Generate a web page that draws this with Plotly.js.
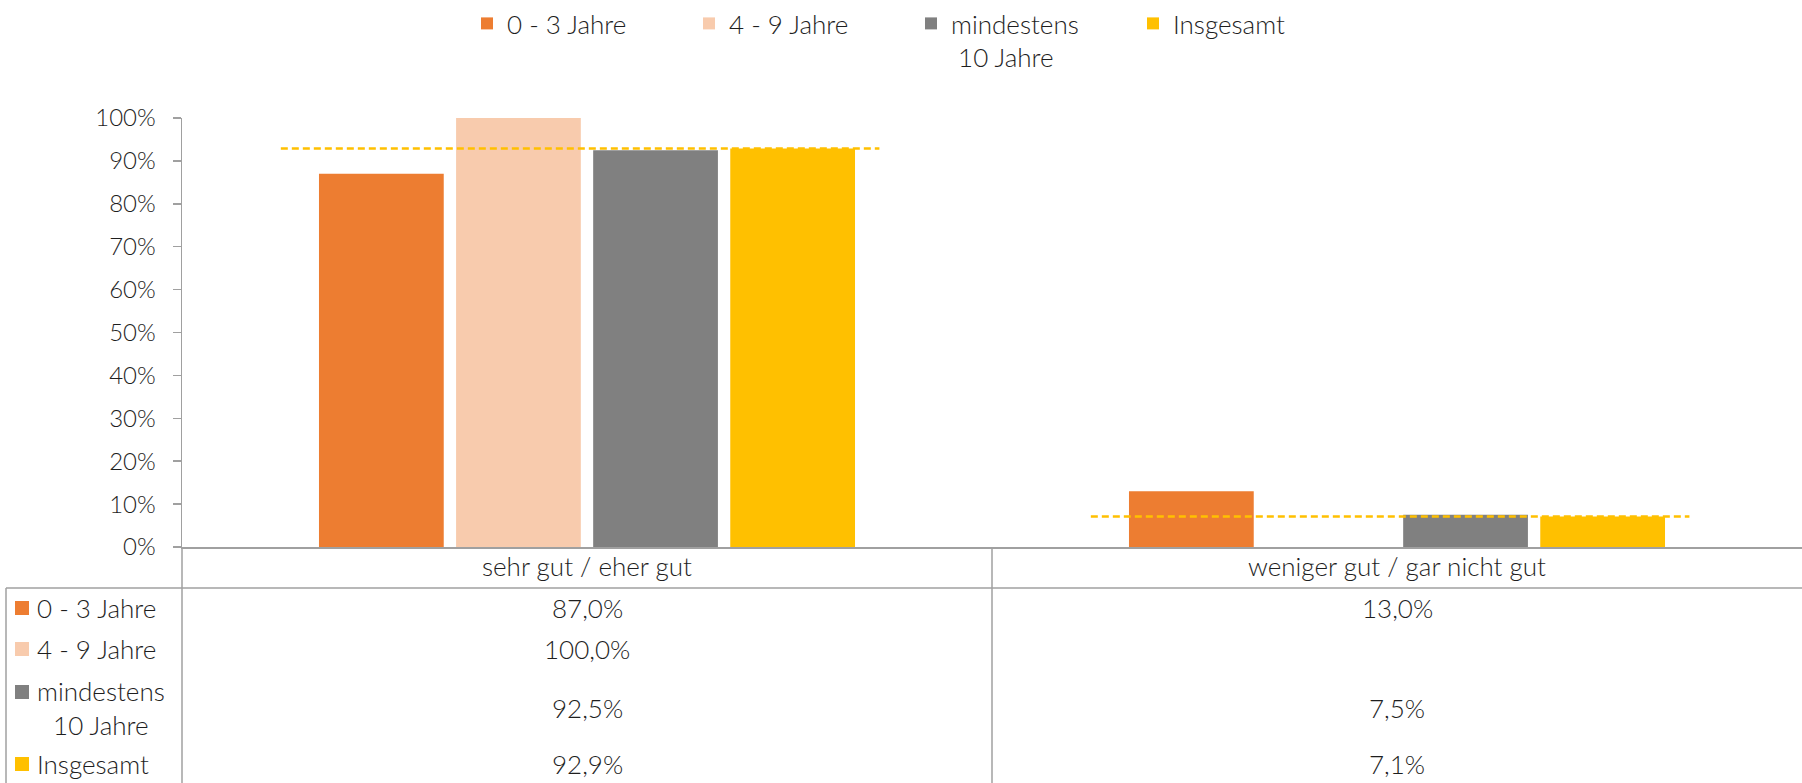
<!DOCTYPE html>
<html>
<head>
<meta charset="utf-8">
<script src="https://cdn.plot.ly/plotly-3.0.1.min.js"></script>
<style>html,body{margin:0;padding:0;background:#fff;}#chart{width:1802px;height:783px;}</style>
</head>
<body>
<div id="chart"></div>
<script>
// ---- data ----
const categories = ['sehr gut / eher gut', 'weniger gut / gar nicht gut'];
const seriesNames = ['0 - 3 Jahre', '4 - 9 Jahre', 'mindestens<br>\u00a010 Jahre', 'Insgesamt'];
const tableNames = ['0 - 3 Jahre', '4 - 9 Jahre', 'mindestens<br>10 Jahre', 'Insgesamt'];
const vJ0_3 = [87.0, 13.0];
const vJ4_9 = [100.0, null];
const vJ10 = [92.5, 7.5];
const vTotal = [92.9, 7.1];
const yTickVals = [0, 10, 20, 30, 40, 50, 60, 70, 80, 90, 100];
const yTickText = ['0%', '10%', '20%', '30%', '40%', '50%', '60%', '70%', '80%', '90%', '100%'];

// ---- styling ----
const colors = ['#ED7D31', '#F8CBAD', '#808080', '#FFC000'];
const FONT = 'Lato, "Noto Sans", sans-serif';
const FS = 26;
const FS_TICK = 24;
const WEIGHT = 300;
const TXT = '#1e1e1e';
const LINEC = '#A0A0A0';
const W = 1802, H = 783;
const M = {l: 182, r: 0, t: 118, b: 236};
const PW = W - M.l - M.r, PH = H - M.t - M.b;
const px = p => (p - M.l) / PW;           // pixel x -> paper
const py = p => (H - M.b - p) / PH;       // pixel y -> paper
// extent of the dashed "Insgesamt" line around each category centre (category units)
const lineExtent = [-0.378, 0.361];
const txtFont = {family: FONT, size: FS, color: TXT, weight: WEIGHT};

const allSeries = [vJ0_3, vJ4_9, vJ10, vTotal];
const fmt = v => (v === null || v === undefined) ? '' : v.toFixed(1).replace('.', ',') + '%';

const traces = allSeries.map((vals, i) => ({
  type: 'bar', name: seriesNames[i], x: categories, y: vals,
  marker: {color: colors[i]}, hoverinfo: 'skip'
}));
vTotal.forEach((v, i) => {
  traces.push({
    type: 'scatter', mode: 'lines', xaxis: 'x2', showlegend: false, hoverinfo: 'skip',
    x: [i + lineExtent[0], i + lineExtent[1]], y: [v, v],
    line: {color: '#FFC000', width: 2.5, dash: '7px,4px'}
  });
});

const shapes = [];
const lineStyle = {color: LINEC, width: 1.5};
// table frame
shapes.push({type: 'line', xref: 'paper', yref: 'paper', x0: px(6), x1: px(1802), y0: py(588), y1: py(588), line: lineStyle});
shapes.push({type: 'line', xref: 'paper', yref: 'paper', x0: px(6), x1: px(6), y0: py(588), y1: py(783), line: lineStyle});
shapes.push({type: 'line', xref: 'paper', yref: 'paper', x0: 0, x1: 0, y0: 0, y1: py(783), line: lineStyle});
shapes.push({type: 'line', xref: 'paper', yref: 'paper', x0: 0.5, x1: 0.5, y0: 0, y1: py(783), line: lineStyle});

const rowY = [608, 649, 708, 764];
const rowMarkerY = [608, 649, 692, 764];
const rowLabelY = [608, 649, 708, 764];
const annotations = [];
tableNames.forEach((nm, r) => {
  shapes.push({type: 'rect', xref: 'paper', yref: 'paper', x0: px(15), x1: px(29),
    y0: py(rowMarkerY[r] - 7), y1: py(rowMarkerY[r] + 7), fillcolor: colors[r], line: {width: 0}});
  annotations.push({xref: 'paper', yref: 'paper', x: px(35), y: py(rowLabelY[r]), xanchor: 'left', yanchor: 'middle',
    text: nm, showarrow: false, align: 'center', font: txtFont});
  categories.forEach((c, ci) => {
    annotations.push({xref: 'x', yref: 'paper', x: c, y: py(rowY[r]), xanchor: 'center', yanchor: 'middle',
      text: fmt(allSeries[r][ci]), showarrow: false, font: txtFont});
  });
});

const layout = {
  width: W, height: H, margin: M,
  paper_bgcolor: '#fff', plot_bgcolor: '#fff',
  font: txtFont,
  barmode: 'group', bargap: 0.323, bargroupgap: 0.09,
  showlegend: true,
  legend: {orientation: 'h', x: px(467), xanchor: 'left', y: py(0), yanchor: 'top',
    entrywidth: 177, entrywidthmode: 'pixels', valign: 'top', traceorder: 'normal',
    font: txtFont, bgcolor: 'rgba(0,0,0,0)'},
  xaxis: {type: 'category', range: [-0.5, 1.5], showline: true, linecolor: LINEC, linewidth: 2,
    ticks: '', showgrid: false, zeroline: false, ticklabelstandoff: -4,
    tickfont: txtFont, fixedrange: true},
  xaxis2: {overlaying: 'x', range: [-0.5, 1.5], visible: false, fixedrange: true},
  yaxis: {range: [0, 100], tickvals: yTickVals, ticktext: yTickText, showline: true,
    linecolor: LINEC, linewidth: 1.5, ticks: 'outside', ticklen: 8, tickcolor: LINEC, tickwidth: 1.5,
    showgrid: false, zeroline: false, ticklabelstandoff: 12,
    tickfont: {family: FONT, size: FS_TICK, color: TXT, weight: WEIGHT}, fixedrange: true},
  shapes: shapes, annotations: annotations
};

Plotly.newPlot('chart', traces, layout, {displayModeBar: false, staticPlot: true});
</script>
</body>
</html>
